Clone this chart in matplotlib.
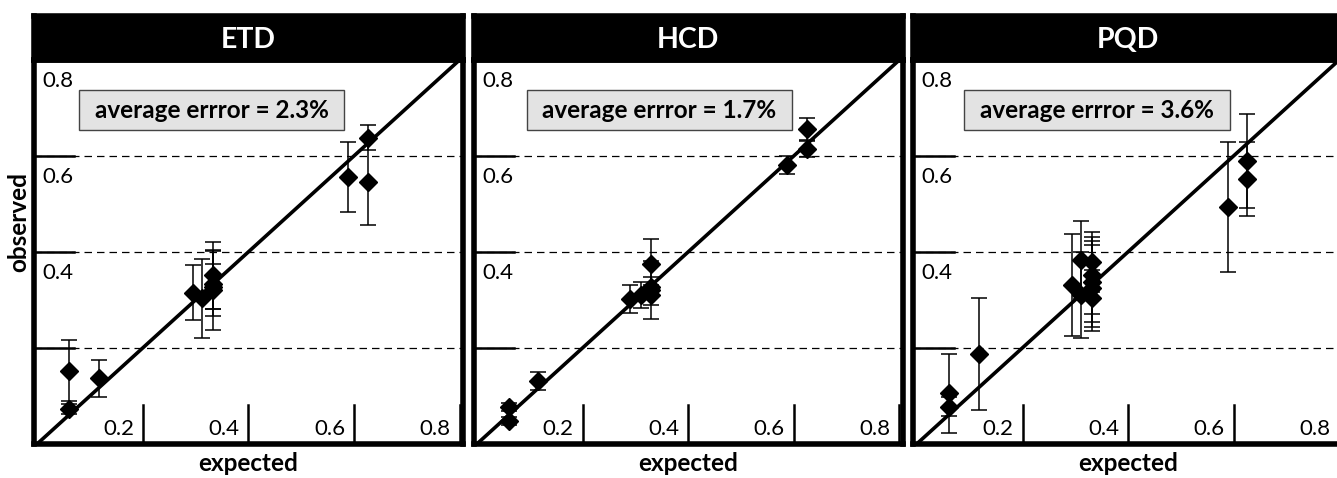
import matplotlib
matplotlib.use('Agg')
import matplotlib.pyplot as plt
from matplotlib.patches import Rectangle
from matplotlib import transforms

plt.rcParams['font.family'] = ['Lato', 'DejaVu Sans']

# panel names and average error text
panels = ['ETD', 'HCD', 'PQD']
avg_errors = ['2.3%', '1.7%', '3.6%']

# ETD: expected, observed, error
etd_expected = [0.060, 0.060, 0.117, 0.294, 0.312, 0.333, 0.333, 0.333, 0.333, 0.589, 0.627, 0.627]
etd_observed = [0.152, 0.072, 0.136, 0.315, 0.303, 0.351, 0.334, 0.320, 0.327, 0.556, 0.638, 0.546]
etd_err = [0.064, 0.010, 0.039, 0.057, 0.082, 0.070, 0.068, 0.083, 0.047, 0.072, 0.026, 0.089]

# HCD
hcd_expected = [0.060, 0.060, 0.115, 0.290, 0.310, 0.330, 0.330, 0.330, 0.330, 0.587, 0.625, 0.625]
hcd_observed = [0.076, 0.048, 0.131, 0.301, 0.310, 0.374, 0.320, 0.310, 0.327, 0.581, 0.657, 0.614]
hcd_err = [0.008, 0.008, 0.018, 0.029, 0.028, 0.052, 0.060, 0.020, 0.020, 0.019, 0.023, 0.017]

# PQD
pqd_expected = [0.060, 0.060, 0.117, 0.293, 0.311, 0.311, 0.332, 0.332, 0.332, 0.332, 0.332, 0.589, 0.625, 0.625]
pqd_observed = [0.105, 0.077, 0.187, 0.331, 0.383, 0.310, 0.379, 0.351, 0.338, 0.324, 0.303, 0.493, 0.590, 0.551]
pqd_err = [0.082, 0.020, 0.117, 0.107, 0.081, 0.090, 0.062, 0.080, 0.085, 0.090, 0.060, 0.135, 0.098, 0.077]

data = [
    (etd_expected, etd_observed, etd_err),
    (hcd_expected, hcd_observed, hcd_err),
    (pqd_expected, pqd_observed, pqd_err),
]

grid_vals = [0.2, 0.4, 0.6]
ytick_labels = [0.4, 0.6, 0.8]
xtick_labels = [0.2, 0.4, 0.6, 0.8]
box_centers = [0.330, 0.345, 0.341]

W, H = 1337, 478
fig = plt.figure(figsize=(W / 100, H / 100), dpi=100)


def px_axes(left, top, width, height):
    return fig.add_axes([left / W, 1 - (top + height) / H, width / W, height / H])


for i, name in enumerate(panels):
    left = 33.7 + i * 439.8
    ax = px_axes(left, 60, 429.5, 383.7)
    ax.set_xlim(-0.007, 0.807)
    ax.set_ylim(0, 0.8)
    ax.set_xticks([])
    ax.set_yticks([])
    for sp in ax.spines.values():
        sp.set_linewidth(4)
        sp.set_zorder(10)

    # dashed grid + short solid ticks
    for g in grid_vals:
        ax.axhline(g, color='black', lw=0.9, dashes=(6, 4), zorder=1)
        ax.plot([-0.007, 0.07], [g, g], color='black', lw=1.8, zorder=2)
        ax.plot([g, g], [0, 0.08], color='black', lw=1.8, zorder=2)
    ax.plot([0.8, 0.8], [0, 0.08], color='black', lw=1.8, zorder=2)

    for t in ytick_labels:
        ax.text(0.009, t - 0.057, f'{t:.1f}', fontsize=16, ha='left', va='baseline')
    for t in xtick_labels:
        ax.text(t - 0.017, 0.018, f'{t:.1f}', fontsize=16, ha='right', va='baseline')

    # diagonal y = x
    ax.plot([0, 0.85], [0, 0.85], color='black', lw=2.6, zorder=3)

    xs, ys, es = data[i]
    ax.errorbar(xs, ys, yerr=es, fmt='D', color='black', ms=9, elinewidth=1.1,
                capsize=5.5, capthick=1.1, zorder=5)

    # average error box
    cx = box_centers[i]
    ax.add_patch(Rectangle((cx - 0.2515, 0.655), 0.503, 0.0834, facecolor='#e3e3e3',
                           edgecolor='#444444', lw=1.0, zorder=6))
    ax.text(cx, 0.680, f'average errror = {avg_errors[i]}', fontsize=17.5,
            fontweight='bold', ha='center', va='baseline', zorder=7)

    trans = transforms.blended_transform_factory(ax.transData, ax.transAxes)
    ax.text(0.4, -0.051, 'expected', transform=trans, fontsize=17.5, fontweight='bold',
            ha='center', va='center')

    # black title bar
    tax = px_axes(left, 15.5, 429.5, 44.5)
    tax.set_facecolor('black')
    tax.set_xticks([])
    tax.set_yticks([])
    for sp in tax.spines.values():
        sp.set_linewidth(4)
    tax.text(0.5, 0.263, name, color='white', fontsize=20.5, fontweight='bold',
             ha='center', va='baseline', transform=tax.transAxes)

fig.text(19 / W, 1 - 221.7 / H, 'observed', rotation=90, fontsize=17.5, fontweight='bold',
         ha='center', va='center')

fig.savefig('out.png', dpi=100)
